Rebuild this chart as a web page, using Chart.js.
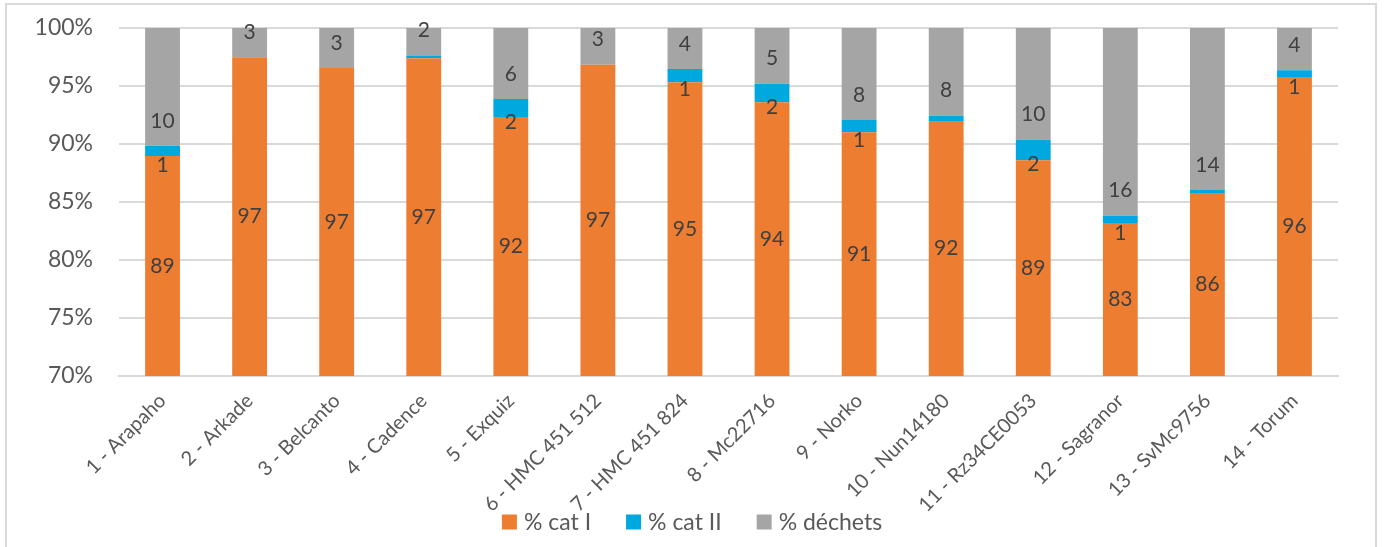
<!DOCTYPE html>
<html lang="fr">
<head>
<meta charset="utf-8">
<script src="https://cdn.jsdelivr.net/npm/chart.js@4.4.1/dist/chart.umd.min.js"></script>
<style>
  html, body { margin: 0; padding: 0; background: #fff; }
  #wrap { position: relative; width: 1384px; height: 547px; overflow: hidden; }
  #cadre { position: absolute; left: 5px; top: 3px; width: 1368px; height: 600px; border: 2px solid #d9d9d9; }
  canvas { position: absolute; left: 0; top: 0; }
</style>
</head>
<body>
<div id="wrap">
  <div id="cadre"></div>
  <canvas id="graphique" width="1384" height="547"></canvas>
</div>
<script>
// Variétés (axe des abscisses)
const varietes = ['1 - Arapaho', '2 - Arkade', '3 - Belcanto', '4 - Cadence', '5 - Exquiz',
  '6 - HMC 451 512', '7 - HMC 451 824', '8 - Mc22716', '9 - Norko', '10 - Nun14180',
  '11 - Rz34CE0053', '12 - Sagranor', '13 - SvMc9756', '14 - Torum'];

// Répartition en %
const catI    = [88.97, 97.47, 96.55, 97.39, 92.33, 96.84, 95.32, 93.59, 91.01, 91.98, 88.59, 83.19, 85.78, 95.78];
const catII   = [0.88, 0, 0, 0.25, 1.55, 0, 1.15, 1.61, 1.06, 0.46, 1.78, 0.63, 0.25, 0.57];
const dechets = [10.15, 2.53, 3.45, 2.36, 6.12, 3.16, 3.53, 4.80, 7.93, 7.56, 9.63, 16.18, 13.97, 3.65];

const seriesNoms = ['% cat I', '% cat II', '% déchets'];
const couleurs = ['#ED7D31', '#00A8E0', '#A5A5A5'];
const axeMin = 70, axeMax = 100, pas = 5;

// Étiquettes de données (valeurs arrondies)
const etiquettes = {
  id: 'etiquettes',
  afterDatasetsDraw(chart) {
    const { ctx, chartArea } = chart;
    ctx.save();
    ctx.font = '21px Lato';
    ctx.fillStyle = '#404040';
    ctx.textAlign = 'center';
    ctx.textBaseline = 'middle';
    chart.data.datasets.forEach((ds, di) => {
      const meta = chart.getDatasetMeta(di);
      meta.data.forEach((barre, i) => {
        const v = Math.round(ds.data[i]);
        if (v < 1) return;
        const bas = Math.min(barre.base, chartArea.bottom);
        let y;
        if (di === 0) y = (barre.y + bas) / 2;
        else if (di === 1) y = (barre.y + barre.base) / 2 + 14;
        else y = barre.base - 25;
        ctx.fillText(String(v), barre.x, y);
      });
    });
    ctx.restore();
  }
};

// Légende façon Excel, centrée sous le graphique
const legende = {
  id: 'legende',
  afterDraw(chart) {
    const ctx = chart.ctx;
    const carre = 15, ecart = 7, entre = 35, yMilieu = 522;
    ctx.save();
    ctx.font = '23px Lato';
    ctx.textBaseline = 'middle';
    const items = chart.data.datasets.map(ds => ({ texte: ds.label, couleur: ds.backgroundColor, l: ctx.measureText(ds.label).width }));
    let total = items.reduce((s, it) => s + carre + ecart + it.l, 0) + entre * (items.length - 1);
    let x = chart.width / 2 - total / 2;
    items.forEach(it => {
      ctx.fillStyle = it.couleur;
      ctx.fillRect(x, yMilieu - carre / 2, carre, carre);
      ctx.fillStyle = '#595959';
      ctx.fillText(it.texte, x + carre + ecart, yMilieu + 1);
      x += carre + ecart + it.l + entre;
    });
    ctx.restore();
  }
};

new Chart(document.getElementById('graphique'), {
  type: 'bar',
  data: {
    labels: varietes,
    datasets: [catI, catII, dechets].map((d, k) => ({
      label: seriesNoms[k],
      data: d,
      backgroundColor: couleurs[k],
      borderWidth: 0,
      categoryPercentage: 1,
      barPercentage: 0.4
    }))
  },
  options: {
    responsive: false,
    animation: false,
    layout: { padding: { left: 35, right: 46, top: 28, bottom: 0 } },
    plugins: {
      tooltip: { enabled: false },
      legend: { display: false }
    },
    scales: {
      x: {
        stacked: true,
        grid: { display: false, drawTicks: false },
        border: { color: '#d9d9d9', width: 2 },
        ticks: {
          autoSkip: false,
          maxRotation: 45,
          minRotation: 45,
          padding: 13,
          color: '#595959',
          font: { family: 'Lato', size: 20 }
        },
        afterFit(scale) { scale.height = 171; }
      },
      y: {
        stacked: true,
        min: axeMin,
        max: axeMax,
        grid: { color: '#d9d9d9', lineWidth: 2, drawTicks: true, tickLength: 26, tickColor: 'rgba(0,0,0,0)' },
        border: { display: false },
        ticks: {
          stepSize: pas,
          padding: 0,
          color: '#595959',
          font: { family: 'Lato', size: 23 },
          callback: v => v + '%'
        },
        afterFit(scale) { scale.width = 84; }
      }
    }
  },
  plugins: [etiquettes, legende]
});
</script>
</body>
</html>
